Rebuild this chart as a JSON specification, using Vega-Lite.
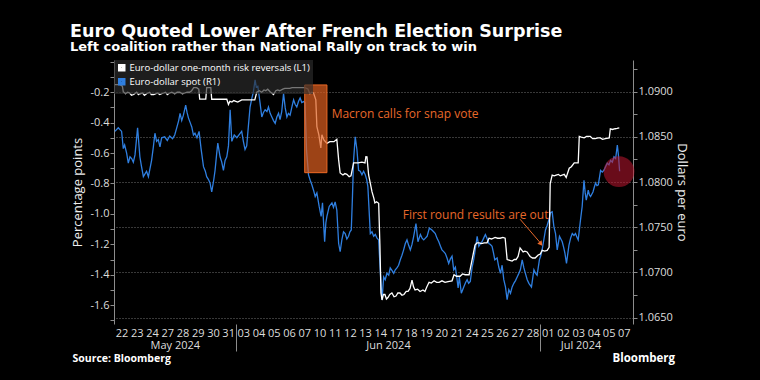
{
  "$schema": "https://vega.github.io/schema/vega-lite/v6.json",
  "width": 519,
  "height": 264,
  "autosize": "none",
  "padding": {"left": 114, "top": 60, "right": 127, "bottom": 56},
  "background": "#000000",
  "config": {
    "view": {"stroke": null},
    "font": "Open Sans",
    "axis": {"labelFont": "Open Sans", "titleFont": "Open Sans", "labelColor": "#dddddd", "titleColor": "#eeeeee", "labelFontSize": 11, "titleFontSize": 13, "titleFontWeight": "normal", "domainColor": "#8c8c8c", "tickColor": "#8c8c8c", "grid": false}
  },
  "title": {
    "text": "Euro Quoted Lower After French Election Surprise",
    "subtitle": "Left coalition rather than National Rally on track to win",
    "anchor": "start", "frame": "group", "dx": -44, "offset": 2,
    "font": "DejaVu Sans", "fontSize": 17.5, "fontWeight": "bold", "color": "#ffffff",
    "subtitleFont": "DejaVu Sans", "subtitleFontSize": 13, "subtitleFontWeight": "bold", "subtitleColor": "#ffffff", "subtitlePadding": 0
  },
  "datasets": {
    "rr": [
      {"t":-0.44,"v":-0.15},{"t":-0.1,"v":-0.15},{"t":0.05,"v":-0.16},{"t":0.11,"v":-0.196},{"t":0.26,"v":-0.21},{"t":0.4,"v":-0.2},{"t":0.53,"v":-0.205},{"t":0.65,"v":-0.22},{"t":0.79,"v":-0.215},{"t":0.99,"v":-0.2},{"t":1.1,"v":-0.215},{"t":1.18,"v":-0.21},{"t":1.38,"v":-0.205},{"t":1.5,"v":-0.22},{"t":1.64,"v":-0.21},{"t":1.84,"v":-0.2},{"t":1.95,"v":-0.215},{"t":2.11,"v":-0.215},{"t":2.37,"v":-0.205},{"t":2.5,"v":-0.215},{"t":2.63,"v":-0.21},{"t":2.89,"v":-0.2},{"t":3.0,"v":-0.215},{"t":3.16,"v":-0.205},{"t":3.3,"v":-0.2},{"t":3.49,"v":-0.21},{"t":3.65,"v":-0.2},{"t":3.82,"v":-0.2},{"t":4.0,"v":-0.21},{"t":4.14,"v":-0.205},{"t":4.3,"v":-0.2},{"t":4.47,"v":-0.2},{"t":4.6,"v":-0.19},{"t":4.74,"v":-0.17},{"t":4.93,"v":-0.17},{"t":5.07,"v":-0.18},{"t":5.13,"v":-0.245},{"t":5.33,"v":-0.245},{"t":5.53,"v":-0.245},{"t":5.59,"v":-0.17},{"t":5.86,"v":-0.17},{"t":5.92,"v":-0.246},{"t":6.45,"v":-0.246},{"t":6.91,"v":-0.246},{"t":7.02,"v":-0.28},{"t":7.11,"v":-0.26},{"t":7.25,"v":-0.265},{"t":7.37,"v":-0.255},{"t":7.5,"v":-0.26},{"t":7.63,"v":-0.265},{"t":7.89,"v":-0.25},{"t":8.1,"v":-0.25},{"t":8.42,"v":-0.25},{"t":8.75,"v":-0.25},{"t":8.88,"v":-0.2},{"t":9.05,"v":-0.19},{"t":9.21,"v":-0.2},{"t":9.35,"v":-0.185},{"t":9.47,"v":-0.19},{"t":9.6,"v":-0.18},{"t":9.74,"v":-0.195},{"t":9.98,"v":-0.215},{"t":10.13,"v":-0.19},{"t":10.25,"v":-0.185},{"t":10.39,"v":-0.19},{"t":10.59,"v":-0.18},{"t":10.72,"v":-0.175},{"t":11.05,"v":-0.175},{"t":11.2,"v":-0.17},{"t":11.38,"v":-0.17},{"t":11.71,"v":-0.17},{"t":12.04,"v":-0.17},{"t":12.24,"v":-0.178},{"t":12.37,"v":-0.21},{"t":12.5,"v":-0.2},{"t":12.61,"v":-0.205},{"t":12.76,"v":-0.25},{"t":12.83,"v":-0.426},{"t":12.96,"v":-0.481},{"t":13.09,"v":-0.566},{"t":13.16,"v":-0.48},{"t":13.29,"v":-0.514},{"t":13.49,"v":-0.536},{"t":13.68,"v":-0.525},{"t":13.95,"v":-0.525},{"t":14.14,"v":-0.509},{"t":14.26,"v":-0.645},{"t":14.36,"v":-0.731},{"t":14.54,"v":-0.744},{"t":14.67,"v":-0.735},{"t":14.8,"v":-0.74},{"t":14.95,"v":-0.755},{"t":15.07,"v":-0.75},{"t":15.24,"v":-0.665},{"t":15.53,"v":-0.665},{"t":15.79,"v":-0.66},{"t":15.99,"v":-0.665},{"t":16.05,"v":-0.624},{"t":16.12,"v":-0.625},{"t":16.23,"v":-0.744},{"t":16.45,"v":-0.854},{"t":16.58,"v":-0.9},{"t":16.64,"v":-0.928},{"t":16.75,"v":-0.92},{"t":16.89,"v":-0.93},{"t":16.97,"v":-1.2},{"t":17.04,"v":-1.52},{"t":17.11,"v":-1.566},{"t":17.2,"v":-1.53},{"t":17.3,"v":-1.53},{"t":17.4,"v":-1.56},{"t":17.5,"v":-1.55},{"t":17.62,"v":-1.53},{"t":17.76,"v":-1.52},{"t":17.9,"v":-1.545},{"t":18.03,"v":-1.54},{"t":18.15,"v":-1.52},{"t":18.29,"v":-1.52},{"t":18.42,"v":-1.535},{"t":18.55,"v":-1.53},{"t":18.7,"v":-1.51},{"t":18.82,"v":-1.51},{"t":18.95,"v":-1.49},{"t":19.08,"v":-1.435},{"t":19.18,"v":-1.48},{"t":19.28,"v":-1.5},{"t":19.45,"v":-1.495},{"t":19.61,"v":-1.51},{"t":19.8,"v":-1.5},{"t":19.93,"v":-1.51},{"t":20.05,"v":-1.48},{"t":20.2,"v":-1.45},{"t":20.35,"v":-1.455},{"t":20.53,"v":-1.44},{"t":20.7,"v":-1.45},{"t":20.86,"v":-1.45},{"t":21.05,"v":-1.44},{"t":21.25,"v":-1.45},{"t":21.45,"v":-1.445},{"t":21.71,"v":-1.44},{"t":21.84,"v":-1.4},{"t":22.0,"v":-1.41},{"t":22.24,"v":-1.41},{"t":22.4,"v":-1.395},{"t":22.57,"v":-1.4},{"t":22.83,"v":-1.4},{"t":23.03,"v":-1.3},{"t":23.22,"v":-1.205},{"t":23.35,"v":-1.19},{"t":23.49,"v":-1.19},{"t":23.65,"v":-1.195},{"t":23.82,"v":-1.19},{"t":24.01,"v":-1.19},{"t":24.14,"v":-1.16},{"t":24.3,"v":-1.165},{"t":24.54,"v":-1.155},{"t":24.7,"v":-1.16},{"t":24.87,"v":-1.16},{"t":25.05,"v":-1.155},{"t":25.2,"v":-1.16},{"t":25.33,"v":-1.3},{"t":25.5,"v":-1.305},{"t":25.66,"v":-1.31},{"t":25.8,"v":-1.3},{"t":25.92,"v":-1.3},{"t":26.05,"v":-1.28},{"t":26.18,"v":-1.224},{"t":26.38,"v":-1.25},{"t":26.5,"v":-1.245},{"t":26.64,"v":-1.25},{"t":26.84,"v":-1.28},{"t":27.0,"v":-1.29},{"t":27.17,"v":-1.29},{"t":27.37,"v":-1.27},{"t":27.5,"v":-1.265},{"t":27.63,"v":-1.24},{"t":27.8,"v":-1.245},{"t":27.96,"v":-1.24},{"t":28.09,"v":-1.22},{"t":28.16,"v":-0.8},{"t":28.29,"v":-0.745},{"t":28.42,"v":-0.75},{"t":28.55,"v":-0.745},{"t":28.7,"v":-0.74},{"t":28.82,"v":-0.75},{"t":29.08,"v":-0.74},{"t":29.21,"v":-0.76},{"t":29.41,"v":-0.7},{"t":29.55,"v":-0.69},{"t":29.74,"v":-0.665},{"t":30.0,"v":-0.665},{"t":30.07,"v":-0.49},{"t":30.2,"v":-0.495},{"t":30.39,"v":-0.5},{"t":30.55,"v":-0.49},{"t":30.79,"v":-0.49},{"t":30.95,"v":-0.505},{"t":31.12,"v":-0.505},{"t":31.3,"v":-0.5},{"t":31.45,"v":-0.5},{"t":31.6,"v":-0.51},{"t":31.78,"v":-0.505},{"t":32.04,"v":-0.5},{"t":32.11,"v":-0.441},{"t":32.25,"v":-0.445},{"t":32.43,"v":-0.44},{"t":32.55,"v":-0.438},{"t":32.7,"v":-0.435}
    ],
    "spot": [
      {"t":-0.44,"v":1.0856},{"t":-0.22,"v":1.086},{"t":0,"v":1.0856},{"t":0.11,"v":1.0837},{"t":0.2,"v":1.0841},{"t":0.33,"v":1.0832},{"t":0.44,"v":1.0821},{"t":0.55,"v":1.0828},{"t":0.66,"v":1.0826},{"t":0.77,"v":1.0822},{"t":0.88,"v":1.083},{"t":1.05,"v":1.086},{"t":1.2,"v":1.0828},{"t":1.3,"v":1.0818},{"t":1.43,"v":1.0806},{"t":1.64,"v":1.0812},{"t":1.76,"v":1.0806},{"t":1.97,"v":1.0824},{"t":2.08,"v":1.0838},{"t":2.19,"v":1.0854},{"t":2.3,"v":1.0845},{"t":2.41,"v":1.0847},{"t":2.52,"v":1.0839},{"t":2.63,"v":1.0849},{"t":2.83,"v":1.085},{"t":3.0,"v":1.0846},{"t":3.16,"v":1.0851},{"t":3.35,"v":1.0848},{"t":3.49,"v":1.0852},{"t":3.62,"v":1.086},{"t":3.75,"v":1.0868},{"t":3.84,"v":1.0876},{"t":3.95,"v":1.0868},{"t":4.06,"v":1.0874},{"t":4.21,"v":1.0885},{"t":4.3,"v":1.0877},{"t":4.39,"v":1.0871},{"t":4.5,"v":1.0866},{"t":4.61,"v":1.0861},{"t":4.72,"v":1.0852},{"t":4.82,"v":1.0854},{"t":4.95,"v":1.0849},{"t":5.09,"v":1.0856},{"t":5.22,"v":1.0837},{"t":5.38,"v":1.0817},{"t":5.5,"v":1.0812},{"t":5.59,"v":1.0806},{"t":5.7,"v":1.0803},{"t":5.81,"v":1.0799},{"t":5.92,"v":1.0789},{"t":6.05,"v":1.0802},{"t":6.14,"v":1.0813},{"t":6.25,"v":1.0832},{"t":6.32,"v":1.0843},{"t":6.47,"v":1.0828},{"t":6.58,"v":1.0822},{"t":6.69,"v":1.0813},{"t":6.8,"v":1.0824},{"t":6.91,"v":1.0828},{"t":7.02,"v":1.084},{"t":7.13,"v":1.088},{"t":7.24,"v":1.0845},{"t":7.4,"v":1.0852},{"t":7.57,"v":1.0849},{"t":7.75,"v":1.0853},{"t":7.89,"v":1.0856},{"t":8.0,"v":1.0845},{"t":8.11,"v":1.0836},{"t":8.22,"v":1.084},{"t":8.33,"v":1.0862},{"t":8.44,"v":1.0883},{"t":8.55,"v":1.0892},{"t":8.66,"v":1.09},{"t":8.77,"v":1.0913},{"t":8.85,"v":1.0905},{"t":8.95,"v":1.0906},{"t":9.1,"v":1.0887},{"t":9.21,"v":1.0872},{"t":9.32,"v":1.0877},{"t":9.43,"v":1.088},{"t":9.55,"v":1.0878},{"t":9.65,"v":1.0883},{"t":9.76,"v":1.0876},{"t":9.87,"v":1.0872},{"t":9.98,"v":1.0868},{"t":10.09,"v":1.0865},{"t":10.2,"v":1.0872},{"t":10.31,"v":1.0876},{"t":10.41,"v":1.0869},{"t":10.52,"v":1.0878},{"t":10.64,"v":1.0898},{"t":10.75,"v":1.0882},{"t":10.86,"v":1.0872},{"t":10.96,"v":1.0876},{"t":11.07,"v":1.0874},{"t":11.2,"v":1.0884},{"t":11.3,"v":1.0891},{"t":11.4,"v":1.0886},{"t":11.51,"v":1.0883},{"t":11.62,"v":1.0889},{"t":11.73,"v":1.0893},{"t":11.84,"v":1.0888},{"t":11.95,"v":1.0889},{"t":12.05,"v":1.0888},{"t":12.15,"v":1.0835},{"t":12.28,"v":1.0808},{"t":12.39,"v":1.0802},{"t":12.5,"v":1.0797},{"t":12.61,"v":1.0791},{"t":12.72,"v":1.0784},{"t":12.83,"v":1.0788},{"t":12.98,"v":1.0773},{"t":13.11,"v":1.0762},{"t":13.2,"v":1.0777},{"t":13.28,"v":1.0752},{"t":13.34,"v":1.0734},{"t":13.42,"v":1.0755},{"t":13.49,"v":1.0762},{"t":13.64,"v":1.0773},{"t":13.82,"v":1.0777},{"t":13.92,"v":1.0772},{"t":14.03,"v":1.0778},{"t":14.14,"v":1.0769},{"t":14.26,"v":1.0732},{"t":14.36,"v":1.0723},{"t":14.47,"v":1.0736},{"t":14.58,"v":1.0745},{"t":14.69,"v":1.0743},{"t":14.8,"v":1.0737},{"t":14.91,"v":1.074},{"t":15.0,"v":1.0745},{"t":15.09,"v":1.0747},{"t":15.17,"v":1.0785},{"t":15.24,"v":1.0824},{"t":15.35,"v":1.085},{"t":15.46,"v":1.0836},{"t":15.57,"v":1.0813},{"t":15.68,"v":1.0812},{"t":15.79,"v":1.0808},{"t":15.9,"v":1.0812},{"t":16.01,"v":1.0808},{"t":16.1,"v":1.0803},{"t":16.18,"v":1.0795},{"t":16.34,"v":1.0743},{"t":16.45,"v":1.0745},{"t":16.56,"v":1.074},{"t":16.67,"v":1.0742},{"t":16.78,"v":1.0738},{"t":16.89,"v":1.0736},{"t":16.99,"v":1.0703},{"t":17.11,"v":1.067},{"t":17.22,"v":1.0695},{"t":17.32,"v":1.0692},{"t":17.43,"v":1.0699},{"t":17.55,"v":1.0697},{"t":17.65,"v":1.0705},{"t":17.77,"v":1.0702},{"t":17.88,"v":1.0699},{"t":17.98,"v":1.0703},{"t":18.09,"v":1.0705},{"t":18.2,"v":1.0708},{"t":18.31,"v":1.0714},{"t":18.42,"v":1.0719},{"t":18.53,"v":1.0725},{"t":18.64,"v":1.0732},{"t":18.75,"v":1.0736},{"t":18.86,"v":1.073},{"t":18.97,"v":1.0725},{"t":19.08,"v":1.0731},{"t":19.19,"v":1.074},{"t":19.34,"v":1.0754},{"t":19.47,"v":1.0734},{"t":19.63,"v":1.0742},{"t":19.74,"v":1.0738},{"t":19.85,"v":1.0736},{"t":19.96,"v":1.0738},{"t":20.07,"v":1.074},{"t":20.22,"v":1.0749},{"t":20.39,"v":1.0747},{"t":20.5,"v":1.0745},{"t":20.61,"v":1.0743},{"t":20.72,"v":1.0738},{"t":20.84,"v":1.0734},{"t":20.95,"v":1.0729},{"t":21.05,"v":1.0725},{"t":21.16,"v":1.0723},{"t":21.27,"v":1.0721},{"t":21.38,"v":1.0716},{"t":21.49,"v":1.071},{"t":21.6,"v":1.0715},{"t":21.71,"v":1.0718},{"t":21.82,"v":1.0703},{"t":21.93,"v":1.0706},{"t":22.02,"v":1.0695},{"t":22.11,"v":1.0683},{"t":22.19,"v":1.0695},{"t":22.32,"v":1.0677},{"t":22.48,"v":1.0684},{"t":22.6,"v":1.0689},{"t":22.7,"v":1.0692},{"t":22.8,"v":1.0688},{"t":22.91,"v":1.069},{"t":23.03,"v":1.0706},{"t":23.12,"v":1.0713},{"t":23.2,"v":1.0721},{"t":23.36,"v":1.074},{"t":23.47,"v":1.0729},{"t":23.58,"v":1.0732},{"t":23.68,"v":1.0734},{"t":23.79,"v":1.0738},{"t":23.9,"v":1.0742},{"t":24.0,"v":1.0738},{"t":24.13,"v":1.0732},{"t":24.23,"v":1.0731},{"t":24.34,"v":1.0729},{"t":24.43,"v":1.0722},{"t":24.52,"v":1.0714},{"t":24.67,"v":1.0716},{"t":24.78,"v":1.0706},{"t":24.89,"v":1.0699},{"t":25.0,"v":1.0708},{"t":25.11,"v":1.0692},{"t":25.22,"v":1.0684},{"t":25.33,"v":1.067},{"t":25.44,"v":1.0681},{"t":25.55,"v":1.0677},{"t":25.66,"v":1.0684},{"t":25.77,"v":1.0688},{"t":25.88,"v":1.0691},{"t":25.99,"v":1.0695},{"t":26.1,"v":1.0699},{"t":26.2,"v":1.0703},{"t":26.32,"v":1.0714},{"t":26.43,"v":1.0705},{"t":26.53,"v":1.0699},{"t":26.65,"v":1.0692},{"t":26.76,"v":1.0688},{"t":26.93,"v":1.0684},{"t":27.09,"v":1.0703},{"t":27.2,"v":1.0699},{"t":27.3,"v":1.0697},{"t":27.45,"v":1.0714},{"t":27.55,"v":1.0719},{"t":27.63,"v":1.0725},{"t":27.75,"v":1.0737},{"t":27.85,"v":1.0747},{"t":27.96,"v":1.0752},{"t":28.07,"v":1.0758},{"t":28.18,"v":1.0766},{"t":28.29,"v":1.0767},{"t":28.4,"v":1.0751},{"t":28.51,"v":1.0743},{"t":28.62,"v":1.0725},{"t":28.77,"v":1.074},{"t":28.86,"v":1.0737},{"t":28.95,"v":1.0734},{"t":29.04,"v":1.0728},{"t":29.13,"v":1.0721},{"t":29.23,"v":1.071},{"t":29.31,"v":1.072},{"t":29.39,"v":1.073},{"t":29.5,"v":1.0738},{"t":29.61,"v":1.0743},{"t":29.72,"v":1.0741},{"t":29.82,"v":1.0743},{"t":29.92,"v":1.0739},{"t":30.0,"v":1.0736},{"t":30.15,"v":1.0758},{"t":30.26,"v":1.0773},{"t":30.38,"v":1.0802},{"t":30.46,"v":1.0788},{"t":30.53,"v":1.078},{"t":30.66,"v":1.0791},{"t":30.73,"v":1.0786},{"t":30.81,"v":1.0784},{"t":30.97,"v":1.0789},{"t":31.05,"v":1.0794},{"t":31.14,"v":1.0799},{"t":31.23,"v":1.0796},{"t":31.32,"v":1.0797},{"t":31.47,"v":1.0813},{"t":31.58,"v":1.0811},{"t":31.69,"v":1.0813},{"t":31.8,"v":1.0817},{"t":31.91,"v":1.0821},{"t":32.02,"v":1.0819},{"t":32.13,"v":1.0824},{"t":32.24,"v":1.0822},{"t":32.35,"v":1.0828},{"t":32.46,"v":1.0826},{"t":32.57,"v":1.0841},{"t":32.64,"v":1.083},{"t":32.72,"v":1.0812}
    ]
  },
  "layer": [
    {
      "data": {"name": "spot"},
      "mark": {"type": "line", "strokeWidth": 1.3, "color": "#2f7fe0"},
      "encoding": {
        "x": {"field": "t", "type": "quantitative", "scale": {"domain": [-0.5, 33.6], "nice": false, "zero": false}, "axis": null},
        "y": {"field": "v", "type": "quantitative", "scale": {"domain": [1.0643, 1.0935], "nice": false, "zero": false},
          "axis": {"orient": "right", "values": [1.065, 1.0675, 1.07, 1.0725, 1.075, 1.0775, 1.08, 1.0825, 1.085, 1.0875, 1.09, 1.0925],
            "labelExpr": "abs(datum.value*200 - round(datum.value*200)) < 0.01 ? format(datum.value, '.4f') : ''",
            "tickSize": 4, "labelPadding": 1, "labelOverlap": false, "labelFlush": false, "labelBound": false,
            "grid": true, "gridColor": "#707070", "gridDash": [1, 2], "gridWidth": 1,
            "gridOpacity": {"condition": {"test": "abs(datum.value*200 - round(datum.value*200)) < 0.01", "value": 1}, "value": 0},
            "title": "Dollars per euro", "titlePadding": 2}}
      }
    },
    {
      "data": {"name": "rr"},
      "mark": {"type": "line", "strokeWidth": 1.3},
      "encoding": {
        "x": {"field": "t", "type": "quantitative", "scale": {"domain": [-0.5, 33.6], "nice": false, "zero": false},
          "axis": {"orient": "bottom",
            "values": [0,1,2,3,4,5,6,7,8,9,10,11,12,13,14,15,16,17,18,19,20,21,22,23,24,25,26,27,28,29,30,31,32,33,3.5,17.5,30.15,7.5,27.5],
            "labelExpr": "datum.value == 3.5 ? ['', 'May 2024'] : datum.value == 17.5 ? ['', 'Jun 2024'] : datum.value == 30.15 ? ['', 'Jul 2024'] : (datum.value == 7.5 || datum.value == 27.5) ? '' : split('22,23,24,27,28,29,30,31,03,04,05,06,07,10,11,12,13,14,17,18,19,20,21,24,25,26,27,28,01,02,03,04,05,07', ',')[datum.value]",
            "labelOverlap": false, "labelFlush": false, "labelBound": false,
            "domain": false, "grid": false, "ticks": true, "tickSize": 27, "tickColor": "#8c8c8c",
            "tickOpacity": {"condition": {"test": "datum.value == 7.5 || datum.value == 27.5", "value": 1}, "value": 0},
            "labelPadding": -24, "labelBaseline": "top", "labelAlign": "center", "labelLineHeight": 12.5, "labelFontSize": 11,
            "title": "Source: Bloomberg", "titleX": -42, "titleY": 34, "titleAlign": "left", "titleAnchor": "start", "titleBaseline": "middle",
            "titleFontSize": 10.5, "titleFontWeight": "bold", "titleColor": "#ffffff"}},
        "y": {"field": "v", "type": "quantitative", "scale": {"domain": [-1.724, 0.012], "nice": false, "zero": false},
          "axis": {"orient": "left", "values": [0,-0.1,-0.2,-0.3,-0.4,-0.5,-0.6,-0.7,-0.8,-0.9,-1,-1.1,-1.2,-1.3,-1.4,-1.5,-1.6,-1.7],
            "labelExpr": "datum.value < -0.05 && abs(round(datum.value*10)) % 2 == 0 ? replace(format(datum.value, '.1f'), '\u2212', '-') : ''",
            "tickSize": 4, "labelPadding": 1, "labelOverlap": false, "labelFlush": false, "labelBound": false,
            "title": "Percentage points", "titlePadding": 5}},
        "color": {"datum": "Euro-dollar one-month risk reversals (L1)",
          "scale": {"domain": ["Euro-dollar one-month risk reversals (L1)", "Euro-dollar spot (R1)"], "range": ["#ffffff", "#2f7fe0"]},
          "legend": {"title": null, "orient": "top-left", "offset": 0, "padding": 3, "direction": "vertical",
            "fillColor": "rgba(45,45,45,0.65)", "symbolType": "square", "symbolSize": 16, "symbolStrokeWidth": 3.5,
            "labelFontSize": 9.5, "labelColor": "#ffffff", "labelFont": "Open Sans", "labelBaseline": "middle",
            "rowPadding": -9, "labelOffset": 3, "labelLimit": 300, "zindex": 1}}
      }
    },
    {
      "data": {"values": [{"x1": 12.03, "x2": 13.49, "y1": -0.152, "y2": -0.729}]},
      "mark": {"type": "rect", "fill": "#e0601f", "fillOpacity": 0.7, "stroke": "#ee6a25", "strokeWidth": 1},
      "encoding": {
        "x": {"field": "x1", "type": "quantitative", "scale": {"domain": [-0.5, 33.6], "nice": false, "zero": false}, "axis": null},
        "x2": {"field": "x2"},
        "y": {"field": "y1", "type": "quantitative", "scale": {"domain": [-1.724, 0.012], "nice": false, "zero": false}, "axis": null},
        "y2": {"field": "y2"}
      }
    },
    {
      "data": {"values": [{"x": 13.8, "y": -0.343, "label": "Macron calls for snap vote"}, {"x": 18.47, "y": -1.007, "label": "First round results are out"}]},
      "mark": {"type": "text", "align": "left", "baseline": "middle", "color": "#e8682a", "fontSize": 12, "font": "Open Sans"},
      "encoding": {
        "x": {"field": "x", "type": "quantitative", "scale": {"domain": [-0.5, 33.6], "nice": false, "zero": false}, "axis": null},
        "y": {"field": "y", "type": "quantitative", "scale": {"domain": [-1.724, 0.012], "nice": false, "zero": false}, "axis": null},
        "text": {"field": "label"}
      }
    },
    {
      "data": {"values": [{"x1": 26.18, "y1": -1.035, "x2": 27.51, "y2": -1.19}]},
      "mark": {"type": "rule", "color": "#e8682a", "strokeWidth": 1},
      "encoding": {
        "x": {"field": "x1", "type": "quantitative", "scale": {"domain": [-0.5, 33.6], "nice": false, "zero": false}, "axis": null},
        "y": {"field": "y1", "type": "quantitative", "scale": {"domain": [-1.724, 0.012], "nice": false, "zero": false}, "axis": null},
        "x2": {"field": "x2"},
        "y2": {"field": "y2"}
      }
    },
    {
      "data": {"values": [{"x": 27.55, "y": -1.197}]},
      "mark": {"type": "point", "shape": "triangle-up", "filled": true, "color": "#e8682a", "size": 30, "angle": 141, "opacity": 1},
      "encoding": {
        "x": {"field": "x", "type": "quantitative", "scale": {"domain": [-0.5, 33.6], "nice": false, "zero": false}, "axis": null},
        "y": {"field": "y", "type": "quantitative", "scale": {"domain": [-1.724, 0.012], "nice": false, "zero": false}, "axis": null}
      }
    },
    {
      "data": {"values": [{"x": 32.68, "y": -0.722}]},
      "mark": {"type": "point", "shape": "circle", "filled": true, "color": "#c0162f", "opacity": 0.55, "size": 950},
      "encoding": {
        "x": {"field": "x", "type": "quantitative", "scale": {"domain": [-0.5, 33.6], "nice": false, "zero": false},
          "axis": {"orient": "bottom", "labels": false, "ticks": false, "domain": false, "grid": false,
            "title": "Bloomberg", "titleX": 498, "titleY": 34, "titleAlign": "left", "titleAnchor": "start", "titleBaseline": "middle",
            "titleFontSize": 11.5, "titleFontWeight": "bold", "titleColor": "#ffffff"}},
        "y": {"field": "y", "type": "quantitative", "scale": {"domain": [-1.724, 0.012], "nice": false, "zero": false}, "axis": null}
      }
    }
  ],
  "resolve": {"scale": {"x": "independent", "y": "independent"}}
}
